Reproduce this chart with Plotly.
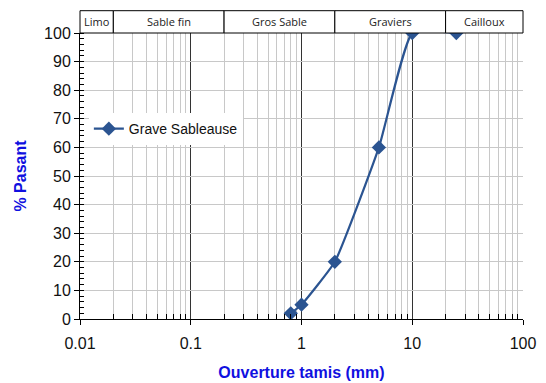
import numpy as np
import plotly.graph_objects as go

# tamisat
ouverture = [0.8, 1, 2, 5, 10, 25]
passant = [2, 5, 20, 60, 100, 100]

# classes granulaires (bornes en mm)
classes = ["Limo", "Sable fin", "Gros Sable", "Graviers", "Cailloux"]
bornes = [0.01, 0.02, 0.2, 2, 20, 100]

x_ticks = [0.01, 0.1, 1, 10, 100]
x_labels = ["0.01", "0.1", "1", "10", "100"]

minor_x = [m * 10.0 ** e for e in range(-2, 2) for m in range(2, 10)]


def frac(v):
    # position relative sur l'axe log [0.01, 100]
    return (np.log10(v) + 2) / 4


fig = go.Figure()
fig.add_trace(go.Scatter(
    x=ouverture, y=passant, name="Grave Sableause",
    mode="lines+markers", line=dict(color="#2B5491", width=2.2, shape="spline", smoothing=0.4),
    marker=dict(symbol="diamond", size=11, color="#2B5491"),
))

# bandeau des classes
for i, nom in enumerate(classes):
    x0, x1 = frac(bornes[i]), frac(bornes[i + 1])
    fig.add_shape(type="rect", xref="paper", yref="paper", x0=x0, x1=x1, y0=1.0, y1=1.078,
                  line=dict(color="black", width=1), fillcolor="white")
    fig.add_annotation(xref="paper", yref="paper", x=(x0 + x1) / 2, y=1.04, text=nom,
                       xanchor="center", yanchor="middle",
                       showarrow=False, font=dict(family="Open Sans", size=11, color="#222"))

fig.update_xaxes(
    type="log", range=[-2, 2], tickvals=x_ticks, ticktext=x_labels,
    ticks="outside", ticklen=5, tickcolor="black", ticklabelstandoff=5,
    showgrid=True, gridcolor="#333", gridwidth=1,
    showline=True, linecolor="black", linewidth=1, mirror=False,
    tickfont=dict(family="Liberation Sans", size=16, color="#111"),
    minor=dict(tickvals=minor_x, ticks="inside", ticklen=5, tickcolor="black",
               showgrid=True, gridcolor="#c8c8c8", gridwidth=1),
    title=dict(text="<b>Ouverture tamis (mm)</b>", standoff=15,
               font=dict(family="Liberation Sans", size=16, color="#1010e0")),
    zeroline=False, automargin=False,
)
fig.update_yaxes(
    range=[0, 100], dtick=10, ticks="outside", ticklen=5, tickcolor="black",
    showgrid=True, gridcolor="#c8c8c8", gridwidth=1,
    showline=True, linecolor="black", linewidth=1,
    tickfont=dict(family="Liberation Sans", size=16, color="#111"),
    minor=dict(dtick=2, ticks="inside", ticklen=4, tickcolor="black", showgrid=False),
    title=dict(text="<b>% Pasant</b>", standoff=13,
               font=dict(family="Liberation Sans", size=16, color="#1010e0")),
    zeroline=False, automargin=False,
)
# la page ajoute une marge de 8 px en haut et a gauche
fig.update_layout(
    width=538, height=375,
    margin=dict(l=72, r=23, t=25, b=64),
    plot_bgcolor="white", paper_bgcolor="white",
    showlegend=True,
    legend=dict(x=0.02, y=0.72, xanchor="left", yanchor="top", bgcolor="white",
                font=dict(family="Liberation Sans", size=14, color="#111")),
)

fig.write_html("out.html")
